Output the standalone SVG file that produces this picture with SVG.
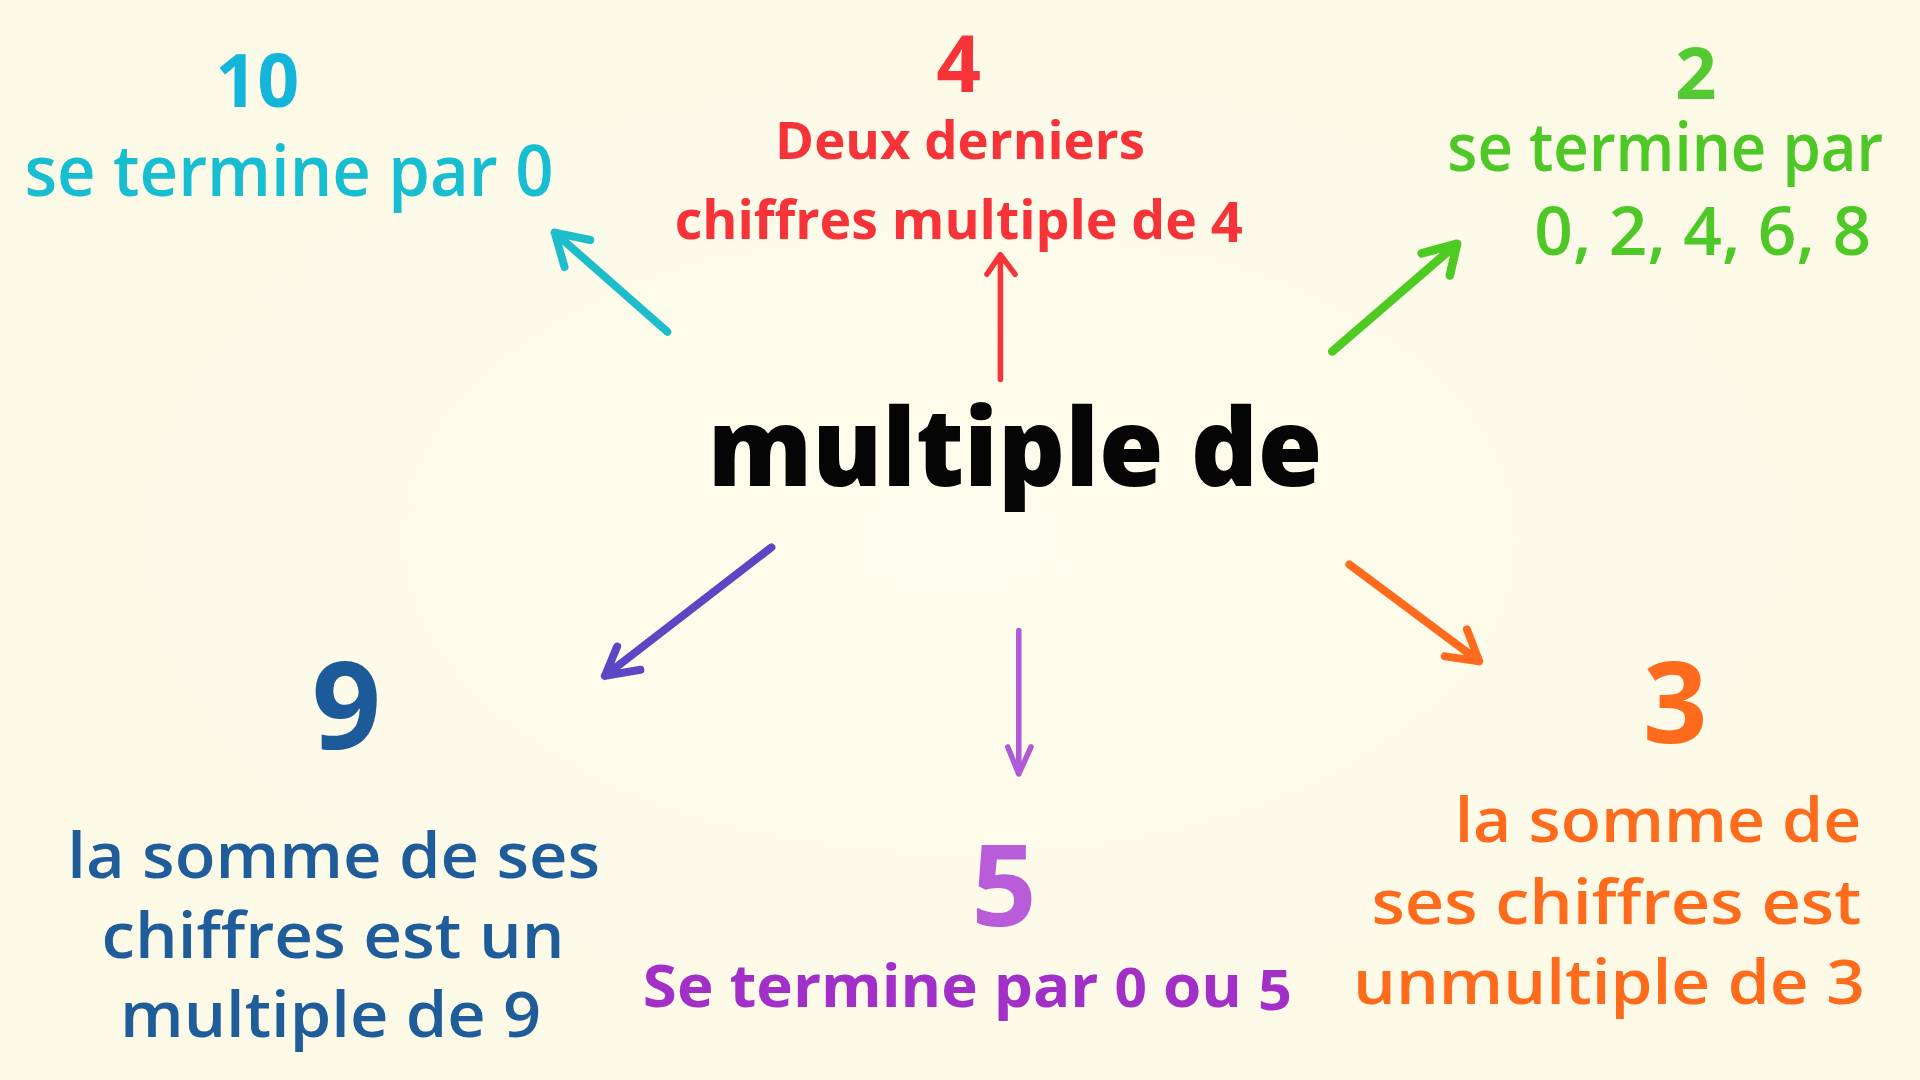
<svg xmlns="http://www.w3.org/2000/svg" width="1920" height="1080" viewBox="0 0 1920 1080">
<defs>
<style>
text{font-family:"Open Sans","Noto Sans","Liberation Sans",sans-serif;}
.num{font-weight:700;text-anchor:middle;}
.lbl{font-weight:600;}
.main{font-weight:800;}
.arr{fill:none;stroke-linecap:round;stroke-linejoin:round;}
</style>
<radialGradient id="bg" cx="50%" cy="50%" r="70%">
<stop offset="0" stop-color="#FEFCEC"/>
<stop offset="1" stop-color="#FCF9E6"/>
</radialGradient>
</defs>
<rect width="1920" height="1080" fill="url(#bg)"/>
<g transform="scale(1.22449)">
<g id="connectors">
<path class="arr" stroke="#1EBDCB" stroke-width="6.5" d="M545 271 L453 190 M482 196 L453 190 L461 218"/>
<path class="arr" stroke="#F73538" stroke-width="4.5" d="M817 310 L817 208 M806 224 L817 208 L829 224"/>
<path class="arr" stroke="#4DCB22" stroke-width="7" d="M1088 287 L1190 199 M1161 207 L1190 199 L1184 225"/>
<path class="arr" stroke="#5B46C4" stroke-width="6.5" d="M630 447 L494 552 M504 528 L494 552 L523 547"/>
<path class="arr" stroke="#B15AD8" stroke-width="4.5" d="M832 515 L832 632 M823 610 L832 632 L842 610"/>
<path class="arr" stroke="#FF6A1C" stroke-width="6.5" d="M1102 461 L1208 540 M1180 536 L1208 540 L1198 514"/>
</g>
<g id="center">
<text class="main" x="578" y="397" font-size="88" fill="#050505" textLength="502" lengthAdjust="spacingAndGlyphs">multiple de</text>
</g>
<g id="node-10">
<text class="num" x="210" y="87" font-size="60" fill="#13B5DB" font-weight="800">10</text>
<text class="lbl" x="20" y="160" font-size="58" fill="#17BDD0" textLength="432" lengthAdjust="spacingAndGlyphs">se termine par 0</text>
</g>
<g id="node-4">
<text class="num" x="783" y="75" font-size="64" fill="#F7333A">4</text>
<text x="633" y="130" font-size="42" font-weight="700" fill="#F7333A" textLength="302" lengthAdjust="spacingAndGlyphs">Deux derniers</text>
<text x="551" y="195" font-size="44" font-weight="700" fill="#F7333A" textLength="464" lengthAdjust="spacingAndGlyphs">chiffres multiple de <tspan font-size="46" dy="3">4</tspan></text>
</g>
<g id="node-2">
<text class="num" x="1385" y="81" font-size="59" fill="#55C933">2</text>
<text class="lbl" x="1182" y="140" font-size="55" fill="#4DC826" textLength="356" lengthAdjust="spacingAndGlyphs">se termine par</text>
<text class="lbl" x="1253" y="208" font-size="54" fill="#4DC826" textLength="275" lengthAdjust="spacingAndGlyphs">0, 2, 4, 6, 8</text>
</g>
<g id="node-9">
<text class="num" x="283" y="612" font-size="99" fill="#1D5A9A">9</text>
<text class="lbl" x="55" y="717" font-size="52" fill="#1F5C9A" textLength="435" lengthAdjust="spacingAndGlyphs">la somme de ses</text>
<text class="lbl" x="83" y="782" font-size="52" fill="#1F5C9A" textLength="378" lengthAdjust="spacingAndGlyphs">chiffres est un</text>
<text class="lbl" x="98" y="847" font-size="52" fill="#1F5C9A" textLength="344" lengthAdjust="spacingAndGlyphs">multiple de 9</text>
</g>
<g id="node-5">
<text class="num" x="820" y="756" font-size="93" fill="#B95CDA">5</text>
<text x="525" y="822" font-size="48" font-weight="700" fill="#A22FC7" textLength="530" lengthAdjust="spacingAndGlyphs">Se termine par <tspan font-size="44">0</tspan> ou <tspan font-size="46" dy="3">5</tspan></text>
</g>
<g id="node-3">
<text class="num" x="1368" y="607" font-size="92" fill="#FF6B1C">3</text>
<text class="lbl" x="1188" y="688" font-size="50" fill="#FF6B1C" textLength="332" lengthAdjust="spacingAndGlyphs">la somme de</text>
<text class="lbl" x="1120" y="755" font-size="50" fill="#FF6B1C" textLength="400" lengthAdjust="spacingAndGlyphs">ses chiffres est</text>
<text class="lbl" x="1105" y="820" font-size="50" fill="#FF6B1C" textLength="418" lengthAdjust="spacingAndGlyphs">unmultiple de 3</text>
</g>
</g>
</svg>
